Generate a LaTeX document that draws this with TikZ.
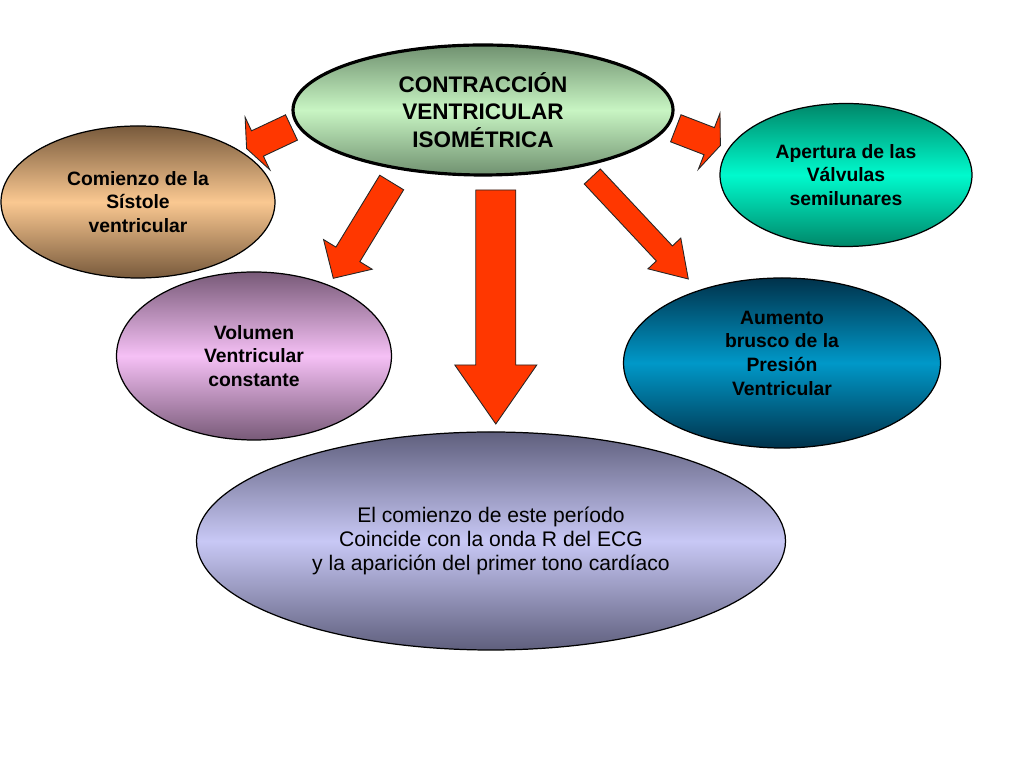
\documentclass[tikz,border=0pt]{standalone}
\usepackage{fontspec}
\setmainfont{Liberation Sans}
\usetikzlibrary{shapes.geometric}
\usetikzlibrary{calc}

\definecolor{arrowred}{RGB}{255,55,0}
\definecolor{greenedge}{RGB}{112,145,112}
\definecolor{greenmid}{RGB}{200,245,195}
\definecolor{tanedge}{RGB}{120,90,60}
\definecolor{tanmid}{RGB}{250,200,145}
\definecolor{lilacedge}{RGB}{120,90,120}
\definecolor{lilacmid}{RGB}{245,192,245}
\definecolor{aquaedge}{RGB}{0,135,105}
\definecolor{aquamid}{RGB}{0,250,205}
\definecolor{blueedge}{RGB}{0,50,75}
\definecolor{bluemid}{RGB}{0,152,200}
\definecolor{lavedge}{RGB}{95,95,125}
\definecolor{lavmid}{RGB}{200,200,245}

% block arrow: tail, tip, half shaft, half head, head length
\newcommand{\blockarrow}[5]{%
  \coordinate (neck) at ($(#2)!#5!(#1)$);
  \draw[arrowbody] ($(#1)!#3!90:(#2)$) -- ($(neck)!#3!90:(#2)$) -- ($(neck)!#4!90:(#2)$) -- (#2)
    -- ($(neck)!#4!-90:(#2)$) -- ($(neck)!#3!-90:(#2)$) -- ($(#1)!#3!-90:(#2)$) -- cycle;
}

\begin{document}
\begin{tikzpicture}[x=0.2mm, y=-0.2mm,
ovalnode1/.style={ellipse, draw=black, line width=1.8pt, inner sep=0pt, top color=greenedge, bottom color=greenedge, middle color=greenmid, minimum width=76mm, minimum height=26mm, align=center, font=\fontsize{12.8}{15.6}\selectfont\bfseries},
ovalnode2/.style={ellipse, draw=black, line width=0.7pt, inner sep=0pt, top color=tanedge, bottom color=tanedge, middle color=tanmid, minimum width=54.8mm, minimum height=30.4mm, align=center, font=\fontsize{11}{13.2}\selectfont\bfseries},
ovalnode3/.style={ellipse, draw=black, line width=0.7pt, inner sep=0pt, top color=lilacedge, bottom color=lilacedge, middle color=lilacmid, minimum width=55mm, minimum height=33.6mm, align=center, font=\fontsize{11}{13.2}\selectfont\bfseries},
ovalnode4/.style={ellipse, draw=black, line width=0.7pt, inner sep=0pt, top color=aquaedge, bottom color=aquaedge, middle color=aquamid, minimum width=50.4mm, minimum height=28.6mm, align=center, font=\fontsize{11}{13.2}\selectfont\bfseries},
ovalnode5/.style={ellipse, draw=black, line width=0.7pt, inner sep=0pt, top color=blueedge, bottom color=blueedge, middle color=bluemid, minimum width=63.4mm, minimum height=34mm},
ovalnode6/.style={ellipse, draw=black, line width=0.7pt, inner sep=0pt, top color=lavedge, bottom color=lavedge, middle color=lavmid, minimum width=117.8mm, minimum height=43.6mm, align=center, font=\fontsize{12}{13.6}\selectfont},
ovaltext/.style={align=center, font=\fontsize{11}{13.4}\selectfont\bfseries, yshift=5.6pt},
arrowbody/.style={fill=arrowred, draw=black!85, line width=0.5pt, line join=miter},
]
\useasboundingbox (0,0) rectangle (1024,768);

%Nodes
\node[ovalnode1] (contraccion) at (483,110) {CONTRACCIÓN\\VENTRICULAR\\ ISOMÉTRICA};
\node[ovalnode2] (comienzo)    at (138,202) {Comienzo de la\\Sístole\\ventricular};
\node[ovalnode3] (volumen)     at (254,356) {Volumen\\Ventricular\\constante};
\node[ovalnode4] (apertura)    at (846,175) {Apertura de las\\Válvulas\\ semilunares};
\node[ovalnode5, label={[ovaltext]center:{Aumento\\brusco de la\\Presión\\Ventricular}}] (aumento) at (782,363) {};
\node[ovalnode6] (periodo)     at (491,541) {El comienzo de este período\\Coincide con la onda R del ECG\\y la aparición del primer tono cardíaco};

%Arrow ends
\coordinate (comienzo-tail) at (291.5,127.5);
\coordinate (comienzo-tip)  at (246.6,148.6);
\coordinate (apertura-tail) at (675.8,128.3);
\coordinate (apertura-tip)  at (720.4,145.5);
\coordinate (volumen-tail)  at (391.7,182.5);
\coordinate (volumen-tip)   at (333.3,278.3);
\coordinate (aumento-tail)  at (592.3,176.5);
\coordinate (aumento-tip)   at (688.3,279);
\coordinate (periodo-tail)  at (495.8,190);
\coordinate (periodo-tip)   at (495.8,424);

%Arrows
\blockarrow{comienzo-tail}{comienzo-tip}{2.8mm}{5.8mm}{2.4mm}
\blockarrow{apertura-tail}{apertura-tip}{2.9mm}{6mm}{2.4mm}
\blockarrow{volumen-tail}{volumen-tip}{2.8mm}{5.7mm}{5.6mm}
\blockarrow{aumento-tail}{aumento-tip}{2.2mm}{4.5mm}{7mm}
\blockarrow{periodo-tail}{periodo-tip}{4mm}{8.2mm}{11.8mm}
\end{tikzpicture}
\end{document}
